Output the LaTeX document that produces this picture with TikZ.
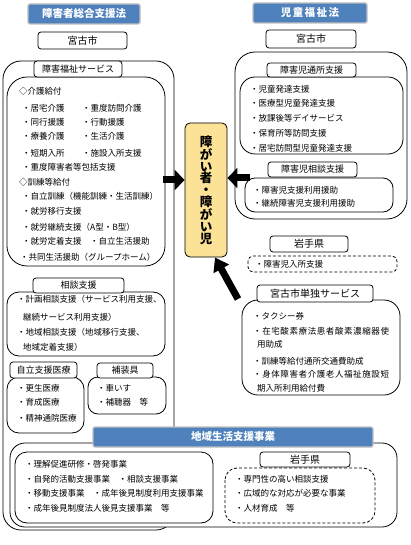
\documentclass[tikz,border=0pt]{standalone}
\usepackage{fontspec}
\setmainfont{Noto Sans CJK JP}
\usetikzlibrary{arrows.meta}
\definecolor{bannerblue}{RGB}{79,129,189}
\definecolor{centerfill}{RGB}{252,226,150}
\begin{document}
\begin{tikzpicture}[x=1pt,y=-1pt,
  frame/.style={draw, line width=0.8pt},
  wframe/.style={draw, line width=0.8pt, fill=white},
  dframe/.style={draw, line width=0.8pt, dash pattern=on 3pt off 2pt},
  lbl/.style={draw, fill=white, rounded corners=3pt, line width=0.8pt, inner sep=0pt, font=\fontsize{9}{11}\selectfont},
  biglbl/.style={lbl, font=\fontsize{10}{12}\selectfont},
  banner/.style={draw=black!25, line width=1.3pt, fill=bannerblue, rounded corners=2pt, inner sep=0pt, text=white, font=\bfseries\fontsize{10.5}{12}\selectfont},
  txt/.style={anchor=west, inner sep=0pt, font=\fontsize{8.5}{10}\selectfont},
  wtxt/.style={txt, font=\fontsize{8.5}{10}\selectfont\addfontfeatures{LetterSpace=7}},
  blk/.style={line width=7pt, -{Triangle[length=10pt, width=20pt]}}
]
\useasboundingbox (0,0) rectangle (411,545);

% ---------- left: 障害者総合支援法 ----------
\draw[frame, rounded corners=18pt] (3,61) rectangle (174,530);
\draw[frame, rounded corners=20pt] (7,77) rectangle (165,266);
\draw[frame, rounded corners=12pt] (7,292) rectangle (165,356);
\draw[frame, rounded corners=12pt] (7,377) rectangle (84,433);
\draw[frame, rounded corners=10pt] (88,377) rectangle (166,414);

\node[banner, minimum width=112pt, minimum height=20pt] (bl) at (84,14) {障害者総合支援法};
\node[biglbl, minimum width=89pt, minimum height=17pt] (lcity) at (82.5,40.5) {宮古市};
\node[lbl, minimum width=88pt, minimum height=16pt] (lsvc) at (78,69) {障害福祉サービス};
\node[lbl, minimum width=91pt, minimum height=15pt] (lsod) at (78.5,285.5) {相談支援};
\node[lbl, minimum width=67pt, minimum height=16pt] (liryo) at (43.5,370) {自立支援医療};
\node[lbl, minimum width=56pt, minimum height=15pt] (lhos) at (125,370.5) {補装具};

\node[txt] (a1) at (19,91) {◇介護給付};
\node[txt] (a2) at (22,108) {・居宅介護};
\node[txt] (a3) at (82,108) {・重度訪問介護};
\node[txt] (a4) at (22,122) {・同行援護};
\node[txt] (a5) at (82,122) {・行動援護};
\node[txt] (a6) at (22,136) {・療養介護};
\node[txt] (a7) at (82,136) {・生活介護};
\node[txt] (a8) at (22,153) {・短期入所};
\node[txt] (a9) at (82,153) {・施設入所支援};
\node[txt] (a10) at (22,167) {・重度障害者等包括支援};
\node[txt] (a11) at (19,182) {◇訓練等給付};
\node[txt] (a12) at (22,196) {・自立訓練（機能訓練・生活訓練）};
\node[txt] (a13) at (22,211) {・就労移行支援};
\node[txt] (a14) at (22,227) {・就労継続支援（A型・B型）};
\node[txt] (a15) at (22,241) {・就労定着支援};
\node[txt] (a16) at (90,241) {・自立生活援助};
\node[txt] (a17) at (20,257) {・共同生活援助（グループホーム）};

\node[txt] (b1) at (17,299) {・計画相談支援（サービス利用支援、};
\node[txt] (b2) at (23,317) {継続サービス利用支援）};
\node[txt] (b3) at (17,332) {・地域相談支援（地域移行支援、};
\node[txt] (b4) at (23,347) {地域定着支援）};

\node[txt] (c1) at (17,388) {・更生医療};
\node[txt] (c2) at (17,402) {・育成医療};
\node[txt] (c3) at (17,418) {・精神通院医療};

\node[txt] (d1) at (97,388) {・車いす};
\node[txt] (d2) at (97,402) {・補聴器　等};

% ---------- right: 児童福祉法 ----------
\draw[frame, rounded corners=20pt] (235,52) rectangle (407,219);
\draw[frame, rounded corners=15pt] (240,77) rectangle (403,154);
\draw[frame, rounded corners=10pt] (245,178) rectangle (393,212);
\draw[dframe, rounded corners=5pt] (248,256) rectangle (397,272);
\draw[frame, rounded corners=16pt] (242,300) rectangle (400,395);

\node[banner, minimum width=114pt, minimum height=20pt, font=\bfseries\fontsize{10.5}{12}\selectfont\addfontfeatures{LetterSpace=14}] (br) at (310,13) {児童福祉法};
\node[biglbl, minimum width=90pt, minimum height=18pt] (rcity) at (311,39) {宮古市};
\node[lbl, minimum width=89pt, minimum height=14pt] (rtsu) at (311.5,70) {障害児通所支援};
\node[lbl, minimum width=89pt, minimum height=15pt] (rsod) at (312.5,169.5) {障害児相談支援};
\node[biglbl, minimum width=78pt, minimum height=16pt] (riwa) at (309,244) {岩手県};
\node[biglbl, minimum width=116pt, minimum height=17pt] (rtan) at (315,293.5) {宮古市単独サービス};

\node[txt] (e1) at (250,89) {・児童発達支援};
\node[txt] (e2) at (250,103) {・医療型児童発達支援};
\node[txt] (e3) at (250,118) {・放課後等デイサービス};
\node[txt] (e4) at (250,133) {・保育所等訪問支援};
\node[txt] (e5) at (250,148) {・居宅訪問型児童発達支援};

\node[txt] (f1) at (253,190) {・障害児支援利用援助};
\node[txt] (f2) at (253,203) {・継続障害児支援利用援助};

\node[txt] (g1) at (255,264) {・障害児入所支援};

\node[txt] (h1) at (253,316) {・タクシー券};
\node[wtxt] (h2) at (253,331) {・在宅酸素療法患者酸素濃縮器使};
\node[txt] (h3) at (257,344) {用助成};
\node[txt] (h4) at (253,361) {・訓練等給付通所交通費助成};
\node[wtxt] (h5) at (253,374) {・身体障害者介護老人福祉施設短};
\node[txt] (h6) at (257,388) {期入所利用給付費};

% ---------- bottom: 地域生活支援事業 ----------
\draw[wframe, rounded corners=15pt] (10,443) rectangle (397,527);
\draw[frame, rounded corners=12pt] (15,452) rectangle (213,523);
\draw[dframe, rounded corners=12pt] (225,468) rectangle (375,523);
\node[banner, minimum width=280pt, minimum height=20pt] (bb) at (233,437) {地域生活支援事業};
\node[biglbl, minimum width=90pt, minimum height=15pt] (biwa) at (305,459.5) {岩手県};

\node[txt] (k1) at (25,464) {・理解促進研修・啓発事業};
\node[txt] (k2) at (25,479) {・自発的活動支援事業　・相談支援事業};
\node[txt] (k3) at (25,493) {・移動支援事業　・成年後見制度利用支援事業};
\node[txt] (k4) at (25,508) {・成年後見制度法人後見支援事業　等};

\node[txt] (m1) at (235,479) {・専門性の高い相談支援};
\node[txt] (m2) at (235,493) {・広域的な対応が必要な事業};
\node[txt] (m3) at (235,508) {・人材育成　等};

% ---------- center ----------
\node[draw, fill=centerfill, rounded corners=5pt, line width=0.8pt, minimum width=42pt, minimum height=134pt, inner sep=0pt, align=center, font=\bfseries\fontsize{12.5}{11.8}\selectfont] (ctr) at (206,190) {障\\が\\い\\者\\・\\障\\が\\い\\児};

\coordinate (la) at (163,180);
\coordinate (ra) at (250,178);
\coordinate (ba) at (238,299);
\draw[blk] (la) -- (ctr.west |- la);
\draw[blk] (ra) -- (ctr.east |- ra);
\draw[blk, -{Triangle[length=13pt, width=17pt]}] (ba) -- (215,257.5);
\end{tikzpicture}
\end{document}
